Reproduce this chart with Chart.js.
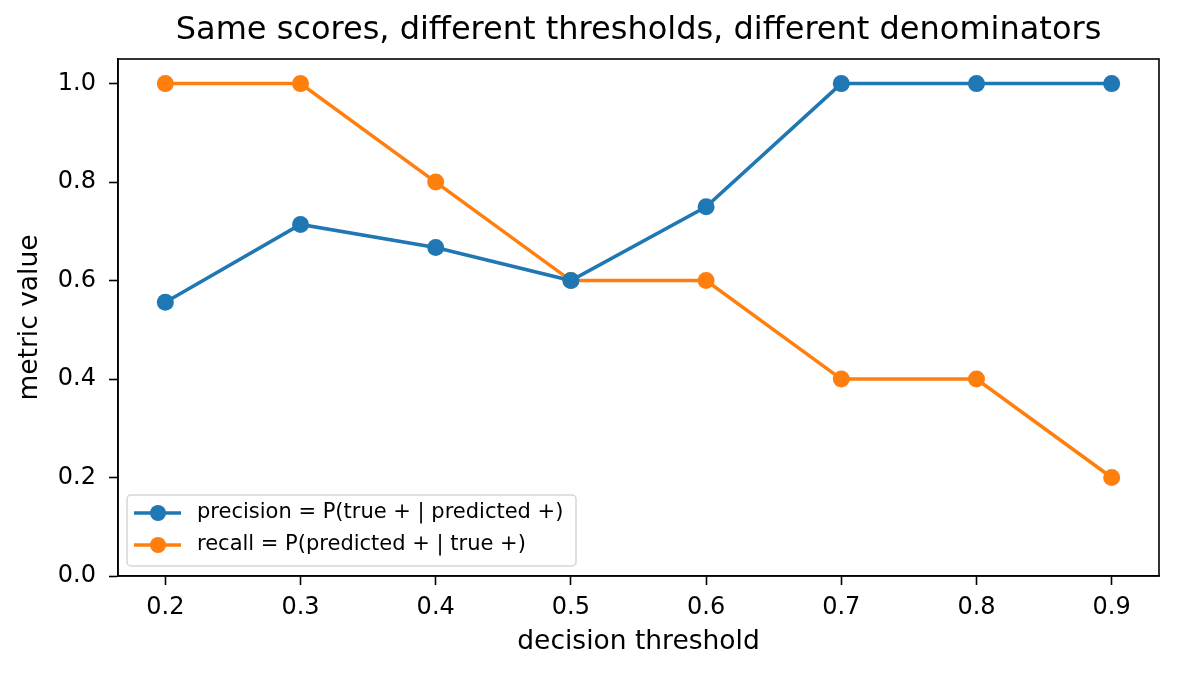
<!DOCTYPE html>
<html>
<head>
<meta charset="utf-8">
<title>Precision vs recall</title>
<script src="https://cdn.jsdelivr.net/npm/chart.js@4.4.1/dist/chart.umd.min.js"></script>
<style>
    html, body { margin: 0; padding: 0; background: #fff; }
    #wrap { width: 1177px; height: 677px; position: relative; }
</style>
</head>
<body>
<div id="wrap"><canvas id="metric-chart"></canvas></div>
<script>
// Data
const thresholds = [0.2, 0.3, 0.4, 0.5, 0.6, 0.7, 0.8, 0.9];
const precisionValues = [0.556, 0.714, 0.667, 0.6, 0.75, 1.0, 1.0, 1.0];
const recallValues = [1.0, 1.0, 0.8, 0.6, 0.6, 0.4, 0.4, 0.2];
const yTicks = [0, 0.2, 0.4, 0.6, 0.8, 1.0];

const TITLE = 'Same scores, different thresholds, different denominators';
const FONT = '"DejaVu Sans", sans-serif';

function toPoints(values) {
    return thresholds.map((t, i) => ({ x: t, y: values[i] }));
}

// Top and right spines + chart title
const framePlugin = {
    id: 'frame',
    afterDraw(chart) {
        const { ctx, chartArea: a } = chart;
        ctx.save();
        ctx.strokeStyle = '#000';
        ctx.lineWidth = 1.6;
        ctx.strokeRect(a.left, a.top, a.right - a.left, a.bottom - a.top);
        ctx.fillStyle = '#000';
        ctx.font = '32px ' + FONT;
        ctx.textAlign = 'center';
        ctx.textBaseline = 'middle';
        ctx.fillText(TITLE, (a.left + a.right) / 2, 31);
        ctx.restore();
    }
};

// matplotlib-like legend: line + marker, lower left
const legendPlugin = {
    id: 'mplLegend',
    afterDraw(chart) {
        const { ctx, chartArea: a } = chart;
        const sets = chart.data.datasets;
        const x0 = a.left + 9, y1 = a.bottom - 10;
        const rowH = 32, h = 71, w = 449;
        const y0 = y1 - h;
        ctx.save();
        ctx.beginPath();
        ctx.roundRect(x0, y0, w, h, 4);
        ctx.fillStyle = 'rgba(255,255,255,0.8)';
        ctx.fill();
        ctx.strokeStyle = '#d6d6d6';
        ctx.lineWidth = 1.5;
        ctx.stroke();
        ctx.font = '21px ' + FONT;
        ctx.textBaseline = 'middle';
        sets.forEach((ds, i) => {
            const cy = y0 + 18 + i * rowH;
            ctx.strokeStyle = ds.borderColor;
            ctx.lineWidth = 3.5;
            ctx.beginPath();
            ctx.moveTo(x0 + 7, cy);
            ctx.lineTo(x0 + 54, cy);
            ctx.stroke();
            ctx.fillStyle = ds.borderColor;
            ctx.beginPath();
            ctx.arc(x0 + 31, cy, 8, 0, Math.PI * 2);
            ctx.fill();
            ctx.fillStyle = '#000';
            ctx.fillText(ds.label, x0 + 70, cy);
        });
        ctx.restore();
    }
};

const ctx = document.getElementById('metric-chart').getContext('2d');
new Chart(ctx, {
    type: 'line',
    data: {
        datasets: [
            {
                label: 'precision = P(true + | predicted +)',
                data: toPoints(precisionValues),
                borderColor: '#1f77b4',
                backgroundColor: '#1f77b4',
                borderWidth: 3.5,
                pointRadius: 8.5,
                pointHoverRadius: 8.5,
                pointBorderWidth: 0
            },
            {
                label: 'recall = P(predicted + | true +)',
                data: toPoints(recallValues),
                borderColor: '#ff7f0e',
                backgroundColor: '#ff7f0e',
                borderWidth: 3.5,
                pointRadius: 8.5,
                pointHoverRadius: 8.5,
                pointBorderWidth: 0
            }
        ]
    },
    options: {
        responsive: true,
        maintainAspectRatio: false,
        animation: false,
        layout: { padding: { left: 0, top: 59, right: 18, bottom: 0 } },
        plugins: {
            legend: { display: false },
            title: { display: false },
            tooltip: { enabled: false }
        },
        scales: {
            x: {
                type: 'linear',
                min: 0.165,
                max: 0.935,
                afterBuildTicks: (scale) => { scale.ticks = thresholds.map(v => ({ value: v })); },
                afterFit: (scale) => { scale.height = 101; },
                grid: { drawOnChartArea: false, tickLength: 9, tickWidth: 1.6, tickColor: '#000' },
                border: { display: true, color: '#000', width: 1.6 },
                ticks: {
                    color: '#000',
                    font: { family: FONT, size: 24 },
                    padding: 8,
                    maxRotation: 0,
                    callback: (v) => v.toFixed(1)
                },
                title: {
                    display: true,
                    text: 'decision threshold',
                    color: '#000',
                    font: { family: FONT, size: 26.5 },
                    padding: { top: 0, bottom: 19 }
                }
            },
            y: {
                type: 'linear',
                min: 0,
                max: 1.05,
                afterBuildTicks: (scale) => { scale.ticks = yTicks.map(v => ({ value: v })); },
                afterFit: (scale) => { scale.width = 118; },
                grid: { drawOnChartArea: false, tickLength: 9, tickWidth: 1.6, tickColor: '#000' },
                border: { display: true, color: '#000', width: 1.6 },
                ticks: {
                    color: '#000',
                    font: { family: FONT, size: 24 },
                    padding: 13,
                    callback: (v) => v.toFixed(1)
                },
                title: {
                    display: true,
                    text: 'metric value',
                    color: '#000',
                    font: { family: FONT, size: 26.5 },
                    padding: { top: 14, bottom: 0 }
                }
            }
        }
    },
    plugins: [framePlugin, legendPlugin]
});
</script>
</body>
</html>
